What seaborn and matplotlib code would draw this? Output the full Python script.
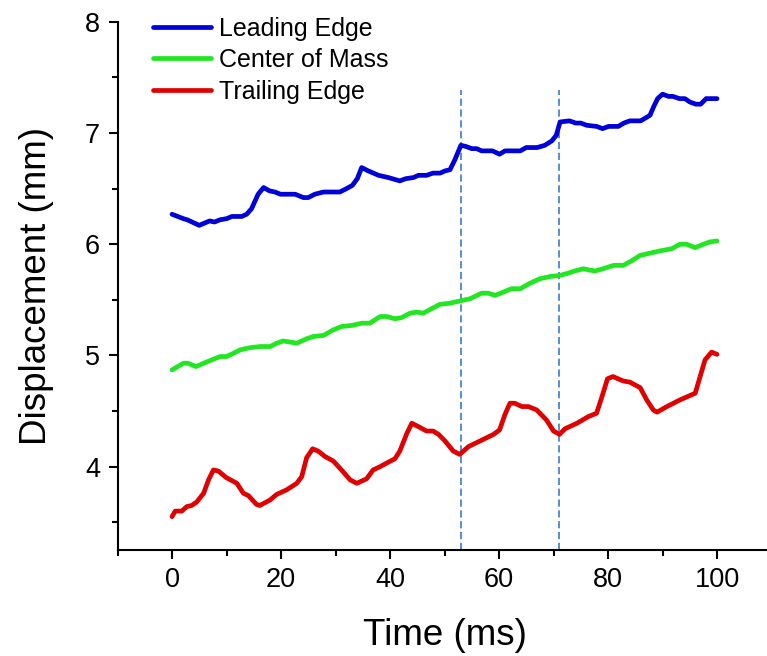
import numpy as np
import pandas as pd
import seaborn as sns
import matplotlib.pyplot as plt

# values
t_lead = [0, 2.1, 2.8, 5.0, 6.9, 7.8, 8.8, 10.0, 11.0, 12.8, 13.7, 14.6, 15.8, 16.8, 17.9,
          18.9, 19.9, 22.6, 24.1, 25.0, 26.2, 27.8, 30.8, 32.0, 33.1, 34.0, 34.8, 36.0,
          37.9, 39.7, 41.8, 42.9, 44.3, 45.2, 46.7, 47.9, 49.2, 50.1, 51.0, 51.9, 53.0,
          53.9, 55.0, 55.9, 56.8, 58.8, 60.1, 61.1, 63.9, 65.0, 67.0, 68.4, 69.7, 70.5,
          71.2, 72.9, 74.1, 75.0, 76.1, 77.9, 79.0, 80.1, 81.9, 82.9, 84.0, 86.0, 87.7,
          88.4, 89.1, 90.0, 91.1, 91.9, 93.1, 94.1, 95.0, 96.1, 97.0, 98.0, 100.0]
leading = [6.27, 6.23, 6.22, 6.17, 6.21, 6.20, 6.22, 6.23, 6.25, 6.25, 6.27, 6.32, 6.45,
           6.51, 6.48, 6.47, 6.45, 6.45, 6.42, 6.42, 6.45, 6.47, 6.47, 6.50, 6.53, 6.59,
           6.69, 6.66, 6.62, 6.60, 6.57, 6.59, 6.60, 6.62, 6.62, 6.64, 6.64, 6.66, 6.67,
           6.76, 6.89, 6.88, 6.86, 6.86, 6.84, 6.84, 6.81, 6.84, 6.84, 6.87, 6.87, 6.89,
           6.93, 6.98, 7.10, 7.11, 7.09, 7.09, 7.07, 7.06, 7.04, 7.06, 7.06, 7.09, 7.11,
           7.11, 7.16, 7.24, 7.31, 7.35, 7.33, 7.33, 7.31, 7.31, 7.28, 7.26, 7.26, 7.31,
           7.31]

t_com = [0, 2.1, 2.9, 4.4, 5.8, 7.3, 8.8, 10.0, 11.3, 12.5, 14.3, 16.2, 18.0, 19.2, 20.4,
         21.7, 22.9, 24.7, 25.9, 27.8, 29.6, 31.1, 33.0, 34.8, 36.3, 38.2, 39.4, 40.9,
         42.1, 43.7, 44.9, 46.1, 47.6, 49.2, 51.0, 52.8, 54.7, 56.8, 58.0, 59.3, 60.8,
         62.3, 63.9, 65.7, 67.5, 69.4, 71.2, 72.7, 73.9, 75.5, 76.4, 77.6, 79.1, 81.0,
         82.8, 84.3, 85.9, 87.7, 89.5, 91.7, 93.2, 94.4, 96.0, 97.5, 98.6, 100.0]
center = [4.87, 4.93, 4.93, 4.90, 4.93, 4.96, 4.99, 4.99, 5.02, 5.05, 5.07, 5.08, 5.08,
          5.11, 5.13, 5.12, 5.11, 5.15, 5.17, 5.18, 5.23, 5.26, 5.27, 5.29, 5.29, 5.35,
          5.35, 5.33, 5.34, 5.38, 5.39, 5.38, 5.42, 5.46, 5.47, 5.49, 5.51, 5.56, 5.56,
          5.54, 5.57, 5.60, 5.60, 5.65, 5.69, 5.71, 5.72, 5.74, 5.76, 5.78, 5.77, 5.76,
          5.78, 5.81, 5.81, 5.85, 5.90, 5.92, 5.94, 5.96, 6.00, 6.00, 5.97, 6.00, 6.02,
          6.03]

t_trail = [0, 0.6, 1.8, 2.7, 3.6, 4.5, 5.8, 6.7, 7.6, 8.5, 10.0, 11.9, 13.1, 14.0, 15.5,
           16.1, 18.0, 19.2, 21.0, 22.9, 23.8, 24.7, 25.8, 26.8, 28.1, 29.6, 31.1, 32.7,
           33.9, 35.7, 36.9, 38.2, 39.7, 40.9, 41.8, 43.1, 44.0, 45.2, 46.7, 47.9, 48.9,
           50.1, 51.6, 52.8, 54.4, 56.5, 59.0, 60.1, 61.1, 62.0, 62.9, 64.2, 65.4, 66.9,
           68.7, 70.0, 71.1, 72.1, 74.3, 76.4, 77.9, 78.9, 79.9, 80.9, 82.8, 84.0, 85.9,
           87.1, 88.3, 89.0, 90.8, 93.2, 96.0, 96.9, 97.8, 99.0, 100.0]
trailing = [3.55, 3.60, 3.60, 3.64, 3.65, 3.68, 3.76, 3.88, 3.97, 3.96, 3.90, 3.85, 3.76,
            3.74, 3.66, 3.65, 3.70, 3.75, 3.79, 3.85, 3.91, 4.08, 4.16, 4.14, 4.09, 4.05,
            3.97, 3.88, 3.85, 3.89, 3.97, 4.00, 4.04, 4.07, 4.14, 4.30, 4.39, 4.36, 4.32,
            4.32, 4.29, 4.23, 4.14, 4.11, 4.18, 4.23, 4.29, 4.33, 4.47, 4.57, 4.57, 4.54,
            4.54, 4.51, 4.42, 4.32, 4.29, 4.34, 4.39, 4.45, 4.48, 4.63, 4.79, 4.81, 4.77,
            4.76, 4.71, 4.60, 4.51, 4.49, 4.54, 4.60, 4.66, 4.81, 4.96, 5.03, 5.01]

labels = ["Leading Edge", "Center of Mass", "Trailing Edge"]
colors = ["#0000d8", "#22e622", "#e00000"]
marker_times = [53, 71]

df = pd.concat([
    pd.DataFrame({"Time": t_lead, "Disp": leading, "Series": labels[0]}),
    pd.DataFrame({"Time": t_com, "Disp": center, "Series": labels[1]}),
    pd.DataFrame({"Time": t_trail, "Disp": trailing, "Series": labels[2]}),
], ignore_index=True)

sns.set_theme(style="ticks")
plt.rcParams['font.family'] = ['Liberation Sans', 'DejaVu Sans']
plt.rcParams['text.color'] = 'black'
plt.rcParams['axes.labelcolor'] = 'black'

fig = plt.figure(figsize=(7.67, 6.56), dpi=100)
ax = fig.add_axes([0.1532, 0.1616, 0.8527, 0.805])

sns.lineplot(data=df, x="Time", y="Disp", hue="Series", palette=colors,
             hue_order=labels, sort=False, estimator=None, linewidth=3.4, ax=ax)

ax.vlines(marker_times, 3.25, 7.39, colors="#4a86d0", linestyles=(0, (4, 2)),
          linewidth=1.3, zorder=1)

ax.set_xlim(-10, 110)
ax.set_ylim(3.25, 8)
ax.set_xticks([0, 20, 40, 60, 80, 100])
ax.set_xticks(np.arange(-10, 111, 20), minor=True)
ax.set_yticks([4, 5, 6, 7, 8])
ax.set_yticks([3.5, 4.5, 5.5, 6.5, 7.5], minor=True)

for side in ["top", "right"]:
    ax.spines[side].set_visible(False)
for side in ["left", "bottom"]:
    ax.spines[side].set_linewidth(1.5)
    ax.spines[side].set_color("black")

ax.tick_params(axis="both", which="major", direction="out", length=6.5, width=1.5,
               labelsize=19.5, colors="black", pad=6)
ax.tick_params(axis="both", which="minor", direction="out", length=4, width=1.5,
               colors="black")

ax.set_xlabel("Time (ms)", fontsize=26.5, labelpad=18)
ax.set_ylabel("Displacement (mm)", fontsize=26.5, labelpad=22)

ax.legend(loc="upper left", bbox_to_anchor=(0.186, 0.99), bbox_transform=fig.transFigure,
          frameon=False, fontsize=18, handlelength=2.35, handletextpad=0.3,
          labelspacing=0.3, borderaxespad=0)

fig.savefig("out.png", dpi=100)
